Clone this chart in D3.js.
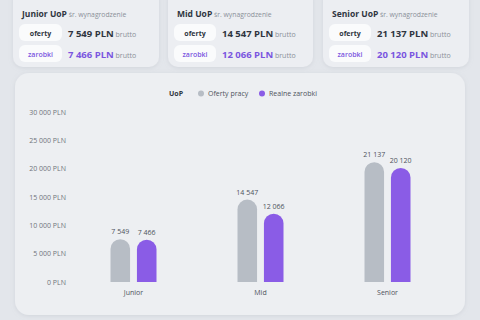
<!DOCTYPE html>
<html>
<head>
<meta charset="utf-8">
<script src="https://cdn.jsdelivr.net/npm/d3@7"></script>
<style>
  html, body { margin: 0; padding: 0; background: #e3e6eb; }
  svg { display: block; font-family: "Open Sans", "Noto Sans", sans-serif; }
</style>
</head>
<body>
<div class="box"></div>
<script>
// dane
const categories = ['Junior', 'Mid', 'Senior'];
const oferty = [7549, 14547, 21137];
const zarobki = [7466, 12066, 20120];
const yTicks = [0, 5000, 10000, 15000, 20000, 25000, 30000];
const seriesNames = ['Oferty pracy', 'Realne zarobki'];

const colors = {gray: '#b7bdc5', purple: '#8a5ce6', dark: '#2f3540', muted: '#8b9099', purpleText: '#7a55df'};

const pl = d3.formatLocale({decimal: ',', thousands: ' ', grouping: [3], currency: ['', ' PLN']});
const fmt = pl.format(',d');

const svg = d3.select('.box')
              .append('svg')
              .attr('width', 480)
              .attr('height', 320);

const defs = svg.append('defs');
const sh = defs.append('filter').attr('id', 'sh').attr('x', '-10%').attr('y', '-10%').attr('width', '120%').attr('height', '130%');
sh.append('feDropShadow').attr('dx', 0).attr('dy', 1).attr('stdDeviation', 2).attr('flood-color', '#9aa0ab').attr('flood-opacity', 0.25);

// karty u góry
const cards = [
  {x: 13, w: 146, title: 'Junior'},
  {x: 168, w: 145, title: 'Mid'},
  {x: 323, w: 146, title: 'Senior'}
];

cards.forEach((c, i) => {
  const g = svg.append('g').attr('transform', `translate(${c.x}, -10)`);
  g.append('rect').attr('width', c.w).attr('height', 77).attr('rx', 10)
   .attr('fill', '#eceef2').attr('filter', 'url(#sh)');

  const t = g.append('text').attr('x', 9).attr('y', 27);
  t.append('tspan').text(c.title + ' UoP').attr('font-size', 8.5).attr('font-weight', 700).attr('fill', colors.dark);
  t.append('tspan').text(' śr. wynagrodzenie').attr('font-size', 6.8).attr('fill', colors.muted);

  const pillW = i === 0 ? 43 : 42;
  [['oferty', oferty[i], colors.dark], ['zarobki', zarobki[i], colors.purpleText]].forEach((r, j) => {
    const y = 34 + j * 21;
    g.append('rect').attr('x', 6).attr('y', y).attr('width', pillW).attr('height', 17).attr('rx', 6).attr('fill', '#fafbfc');
    g.append('text').attr('x', 6 + pillW / 2).attr('y', y + 11.5).attr('text-anchor', 'middle')
     .attr('font-size', 7).attr('font-weight', j === 0 ? 700 : 600).attr('fill', r[2]).text(r[0]);
    const v = g.append('text').attr('x', pillW + 12).attr('y', y + 12.5);
    v.append('tspan').text(fmt(r[1]) + ' PLN').attr('font-size', 9.5).attr('font-weight', 700).attr('fill', r[2]);
    v.append('tspan').text(' brutto').attr('font-size', 7).attr('fill', colors.muted);
  });
});

// panel wykresu
svg.append('rect').attr('x', 15).attr('y', 73).attr('width', 450).attr('height', 242).attr('rx', 14)
   .attr('fill', '#edeff2').attr('filter', 'url(#sh)');

const y = d3.scaleLinear().domain([0, 30000]).range([282, 112]);
const x = d3.scaleBand().domain(categories).range([70, 451]);
const inner = d3.scaleBand().domain(seriesNames).range([-23, 23]).paddingInner(0.26);

// oś Y
const yAxis = svg.append('g').attr('transform', 'translate(66, 0)')
  .call(d3.axisLeft(y).tickValues(yTicks).tickSize(0).tickPadding(0).tickFormat(d => fmt(d) + ' PLN'));
yAxis.select('.domain').remove();
yAxis.selectAll('text').attr('font-size', 7).attr('fill', '#70747b').attr('font-family', '"Open Sans", sans-serif');

// oś X
const xAxis = svg.append('g').attr('transform', 'translate(0, 286)')
  .call(d3.axisBottom(x).tickSize(0).tickPadding(4));
xAxis.select('.domain').remove();
xAxis.selectAll('text').attr('font-size', 7).attr('fill', '#4e535c').attr('font-family', '"Open Sans", sans-serif');

// słupki z zaokrągloną górą
const barPath = (x0, w, yTop, yBase) => {
  const r = w / 2;
  return `M${x0},${yBase}V${yTop + r}A${r},${r} 0 0 1 ${x0 + w},${yTop + r}V${yBase}Z`;
};

const rows = categories.map((c, i) => [
  {cat: c, s: seriesNames[0], v: oferty[i], color: colors.gray},
  {cat: c, s: seriesNames[1], v: zarobki[i], color: colors.purple}
]).flat();

const bars = svg.append('g');
bars.selectAll('path').data(rows).enter().append('path')
    .attr('d', d => barPath(x(d.cat) + x.bandwidth() / 2 + inner(d.s), inner.bandwidth(), y(d.v), y(0)))
    .attr('fill', d => d.color);

bars.selectAll('text').data(rows).enter().append('text')
    .attr('x', d => x(d.cat) + x.bandwidth() / 2 + inner(d.s) + inner.bandwidth() / 2)
    .attr('y', d => y(d.v) - 5)
    .attr('text-anchor', 'middle')
    .attr('font-size', 7)
    .attr('fill', '#4e535c')
    .text(d => fmt(d.v));

// legenda
const leg = svg.append('g').attr('transform', 'translate(0, 96)');
leg.append('text').attr('x', 169).attr('y', 0).attr('font-size', 7).attr('font-weight', 700).attr('fill', colors.dark).text('UoP');
[[201, colors.gray, seriesNames[0]], [262, colors.purple, seriesNames[1]]].forEach(l => {
  leg.append('circle').attr('cx', l[0]).attr('cy', -2.5).attr('r', 3).attr('fill', l[1]);
  leg.append('text').attr('x', l[0] + 7).attr('y', 0).attr('font-size', 7).attr('fill', '#4e535c').text(l[2]);
});
</script>
</body>
</html>
